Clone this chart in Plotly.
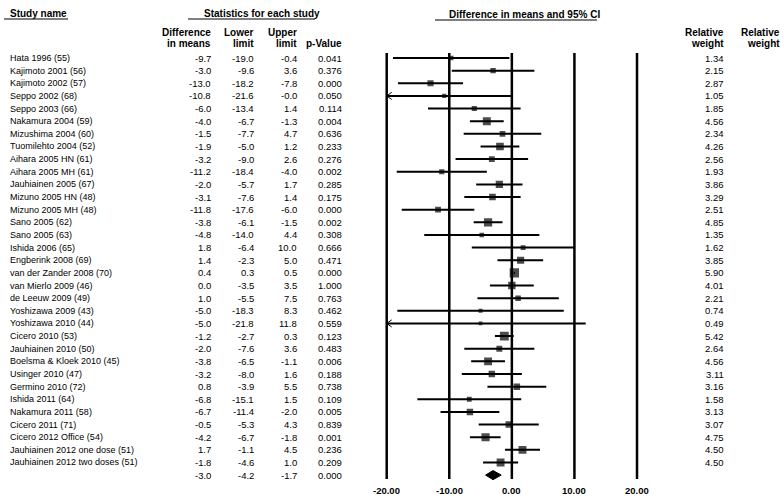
import plotly.graph_objects as go

studies = ["Hata 1996 (55)", "Kajimoto 2001 (56)", "Kajimoto 2002 (57)", "Seppo 2002 (68)",
           "Seppo 2003 (66)", "Nakamura 2004 (59)", "Mizushima 2004 (60)", "Tuomilehto 2004 (52)",
           "Aihara 2005 HN (61)", "Aihara 2005 MH (61)", "Jauhiainen 2005 (67)", "Mizuno 2005 HN (48)",
           "Mizuno 2005 MH (48)", "Sano 2005 (62)", "Sano 2005 (63)", "Ishida 2006 (65)",
           "Engberink 2008 (69)", "van der Zander 2008 (70)", "van Mierlo 2009 (46)", "de Leeuw 2009 (49)",
           "Yoshizawa 2009 (43)", "Yoshizawa 2010 (44)", "Cicero 2010 (53)", "Jauhiainen 2010 (50)",
           "Boelsma & Kloek 2010 (45)", "Usinger 2010 (47)", "Germino 2010 (72)", "Ishida 2011 (64)",
           "Nakamura 2011 (58)", "Cicero 2011 (71)", "Cicero 2012 Office (54)",
           "Jauhiainen 2012 one dose (51)", "Jauhiainen 2012 two doses (51)"]
diff = [-9.7, -3.0, -13.0, -10.8, -6.0, -4.0, -1.5, -1.9, -3.2, -11.2, -2.0, -3.1, -11.8, -3.8, -4.8,
        1.8, 1.4, 0.4, 0.0, 1.0, -5.0, -5.0, -1.2, -2.0, -3.8, -3.2, 0.8, -6.8, -6.7, -0.5, -4.2, 1.7, -1.8]
lower = [-19.0, -9.6, -18.2, -21.6, -13.4, -6.7, -7.7, -5.0, -9.0, -18.4, -5.7, -7.6, -17.6, -6.1, -14.0,
         -6.4, -2.3, 0.3, -3.5, -5.5, -18.3, -21.8, -2.7, -7.6, -6.5, -8.0, -3.9, -15.1, -11.4, -5.3, -6.7,
         -1.1, -4.6]
upper = [-0.4, 3.6, -7.8, -0.0, 1.4, -1.3, 4.7, 1.2, 2.6, -4.0, 1.7, 1.4, -6.0, -1.5, 4.4, 10.0, 5.0,
         0.5, 3.5, 7.5, 8.3, 11.8, 0.3, 3.6, -1.1, 1.6, 5.5, 1.5, -2.0, 4.3, -1.8, 4.5, 1.0]
pvals = ["0.041", "0.376", "0.000", "0.050", "0.114", "0.004", "0.636", "0.233", "0.276", "0.002",
         "0.285", "0.175", "0.000", "0.002", "0.308", "0.666", "0.471", "0.000", "1.000", "0.763",
         "0.462", "0.559", "0.123", "0.483", "0.006", "0.188", "0.738", "0.109", "0.005", "0.839",
         "0.001", "0.236", "0.209"]
weights = [1.34, 2.15, 2.87, 1.05, 1.85, 4.56, 2.34, 4.26, 2.56, 1.93, 3.86, 3.29, 2.51, 4.85, 1.35,
           1.62, 3.85, 5.90, 4.01, 2.21, 0.74, 0.49, 5.42, 2.64, 4.56, 3.11, 3.16, 1.58, 3.13, 3.07,
           4.75, 4.50, 4.50]
summary = {"diff": -3.0, "lower": -4.2, "upper": -1.7, "p": "0.000"}
tick_vals = [-20, -10, 0, 10, 20]
tick_labels = ["-20.00", "-10.00", "0.00", "10.00", "20.00"]

W, H = 784, 504
XMIN, XMAX = -20, 20
FONT = "Liberation Sans, Arial, sans-serif"
n = len(studies)
row0_px, row_h = 58, 12.64

def py(px):  # paper y from pixel
    return 1 - px / H

def pxx(px):
    return px / W

fig = go.Figure()

# reference vertical lines
for t in tick_vals:
    fig.add_shape(type="line", xref="x", yref="y", x0=t, x1=t, y0=-0.4, y1=n + 0.3,
                  line=dict(color="black", width=2.5))

# CI lines
lx, ly = [], []
ax_, ay_ = [], []
for i in range(n):
    lo = max(lower[i], XMIN)
    hi = min(upper[i], XMAX)
    lx += [lo, hi, None]
    ly += [i, i, None]
    if lower[i] < XMIN:
        ax_ += [XMIN + 0.8, XMIN, XMIN + 0.8, None]
        ay_ += [i - 0.28, i, i + 0.28, None]
fig.add_trace(go.Scatter(x=lx, y=ly, mode="lines", line=dict(color="black", width=2),
                         hoverinfo="skip", showlegend=False))
fig.add_trace(go.Scatter(x=ax_, y=ay_, mode="lines", line=dict(color="black", width=1),
                         hoverinfo="skip", showlegend=False))
# squares
fig.add_trace(go.Scatter(x=diff, y=list(range(n)), mode="markers",
                         marker=dict(symbol="square", color="black",
                                     size=[3.2 + 1.04 * w for w in weights], line=dict(width=0)),
                         showlegend=False))
# summary diamond
sy = n
fig.add_trace(go.Scatter(x=[summary["lower"], summary["diff"], summary["upper"], summary["diff"], summary["lower"]],
                         y=[sy, sy - 0.36, sy, sy + 0.36, sy], mode="lines", fill="toself",
                         fillcolor="black", line=dict(color="black", width=1), showlegend=False))

ann = []
def txt(x, y, s, anchor="left", size=9, bold=False, yref="y"):
    ann.append(dict(x=x, y=y, xref="paper", yref=yref, text=s, showarrow=False,
                    xanchor=anchor, yanchor="middle",
                    font=dict(family=FONT, size=size, color="black",
                              weight="bold" if bold else "normal")))

col_diff, col_lo, col_hi, col_p, col_w = 213, 256, 299, 344, 726
for i in range(n):
    txt(pxx(8), i, studies[i])
    txt(pxx(col_diff), i, f"{diff[i]:.1f}", "right", 9.5)
    txt(pxx(col_lo), i, f"{lower[i]:.1f}", "right", 9.5)
    txt(pxx(col_hi), i, f"{upper[i]:.1f}", "right", 9.5)
    txt(pxx(col_p), i, pvals[i], "right", 9.5)
    txt(pxx(col_w), i, f"{weights[i]:.2f}", "right", 9.5)
txt(pxx(col_diff), sy, f"{summary['diff']:.1f}", "right", 9.5)
txt(pxx(col_lo), sy, f"{summary['lower']:.1f}", "right", 9.5)
txt(pxx(col_hi), sy, f"{summary['upper']:.1f}", "right", 9.5)
txt(pxx(col_p), sy, summary["p"], "right", 9.5)

# tick labels
for t, lab in zip(tick_vals, tick_labels):
    ann.append(dict(x=t, y=py(490), xref="x", yref="paper", text=lab, showarrow=False,
                    xanchor="center", yanchor="middle",
                    font=dict(family=FONT, size=9.5, color="black", weight="bold")))

# headers
txt(pxx(8), py(13), "Study name", "left", 10, True, "paper")
txt(pxx(262), py(13), "Statistics for each study", "center", 10, True, "paper")
txt(pxx(524), py(14), "Difference in means and 95% CI", "center", 10, True, "paper")
txt(pxx(col_diff), py(32), "Difference", "right", 10, True, "paper")
txt(pxx(col_diff), py(43), "in means", "right", 10, True, "paper")
txt(pxx(col_lo), py(32), "Lower", "right", 10, True, "paper")
txt(pxx(col_lo), py(43), "limit", "right", 10, True, "paper")
txt(pxx(col_hi), py(32), "Upper", "right", 10, True, "paper")
txt(pxx(col_hi), py(43), "limit", "right", 10, True, "paper")
txt(pxx(col_p), py(43), "p-Value", "right", 10, True, "paper")
txt(pxx(col_w), py(32), "Relative", "right", 10, True, "paper")
txt(pxx(col_w), py(43), "weight", "right", 10, True, "paper")
txt(pxx(782), py(32), "Relative", "right", 10, True, "paper")
txt(pxx(782), py(43), "weight", "right", 10, True, "paper")

# header underlines
for x0, x1, yy in [(4, 68, 19), (188, 315, 19), (435, 597, 20)]:
    fig.add_shape(type="line", xref="paper", yref="paper", x0=pxx(x0), x1=pxx(x1),
                  y0=py(yy), y1=py(yy), line=dict(color="black", width=1.2))

x_left_px, x_right_px = 386.7, 637.0
scale = (x_right_px - x_left_px) / (XMAX - XMIN)
pad = 2.0
dom = [(x_left_px - pad * scale) / W, (x_right_px + pad * scale) / W]
ymin = -row0_px / row_h
ymax = (H - row0_px) / row_h

fig.update_layout(
    width=W, height=H, margin=dict(l=0, r=0, t=0, b=0),
    paper_bgcolor="white", plot_bgcolor="white",
    xaxis=dict(range=[XMIN - pad, XMAX + pad], domain=dom, visible=False, fixedrange=True),
    yaxis=dict(range=[ymax, ymin], visible=False, fixedrange=True),
    annotations=ann, showlegend=False,
)
fig.write_html("out.html", config={"displayModeBar": False},
               post_script="document.body.style.margin='0px';document.body.style.overflow='hidden';")
